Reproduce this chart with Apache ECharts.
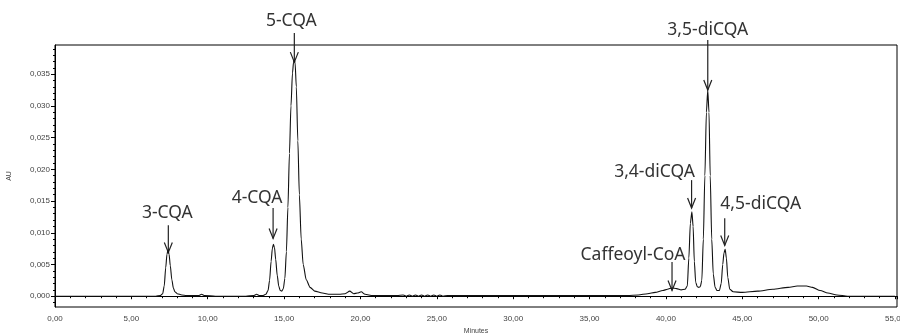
<!DOCTYPE html>
<html>
<head>
<meta charset="utf-8">
<script src="https://cdn.jsdelivr.net/npm/echarts@6/dist/echarts.min.js"></script>
<style>
  html, body { margin: 0; padding: 0; background: #fff; }
  #chart { width: 900px; height: 333px; }
</style>
</head>
<body>
<div id="chart"></div>
<script>
// HPLC trace: retention time (min) and absorbance (AU)
const minutes = [
  0.0, 1.0, 2.0, 3.0, 4.0, 5.0, 6.0, 6.6, 6.9, 7.05, 7.15, 7.25, 7.33, 7.40, 7.47, 7.55, 7.65, 7.75, 7.85, 8.0, 8.3, 8.6,
  9.0, 9.4, 9.6, 9.8, 10.5, 11.5, 12.5, 13.0, 13.2, 13.4, 13.6, 13.8, 13.95, 14.05, 14.15, 14.23, 14.30, 14.37, 14.45, 14.55,
  14.65, 14.75, 14.85, 14.95, 15.05, 15.15, 15.25, 15.35, 15.45, 15.55, 15.62, 15.67, 15.72, 15.80, 15.90, 16.00, 16.12,
  16.25, 16.45, 16.7, 17.0, 17.5, 18.0, 18.6, 19.0, 19.3, 19.55, 19.8, 20.05, 20.3, 20.8, 21.5, 22.4,
  22.8, 23.0, 23.2, 23.4, 23.6, 23.8, 24.0, 24.2, 24.4, 24.6, 24.8, 25.0, 25.2, 25.4, 25.7,
  27.0, 30.0, 33.0, 36.0, 37.5, 38.2, 38.8, 39.3, 39.8, 40.1, 40.4, 40.7, 41.0, 41.25,
  41.4, 41.5, 41.6, 41.70, 41.78, 41.86, 41.95, 42.05, 42.15, 42.25, 42.35, 42.45, 42.55, 42.65, 42.74,
  42.82, 42.90, 43.00, 43.10, 43.22, 43.35, 43.50, 43.62, 43.72, 43.80, 43.88, 43.96, 44.05, 44.18, 44.4,
  45.0, 46.0, 47.0, 48.0, 48.6, 49.2, 49.6, 50.1, 50.6, 51.2, 51.9, 53.0, 55.0
];
const au = [
  0.0000, 0.0000, 0.0000, 0.0000, 0.0000, 0.0000, 0.0000, 0.0000, 0.0001, 0.0004, 0.0016, 0.0045, 0.0066, 0.0073, 0.0066, 0.0048, 0.0026, 0.0013, 0.0007, 0.0004, 0.0002, 0.0001,
  0.0001, 0.0001, 0.0003, 0.0001, 0.0000, 0.0000, 0.0000, 0.0001, 0.0003, 0.0001, 0.0001, 0.0003, 0.0009, 0.0025, 0.0055, 0.0075, 0.0082, 0.0077, 0.0058, 0.0033,
  0.0016, 0.0009, 0.0008, 0.0012, 0.0028, 0.0070, 0.0140, 0.0225, 0.0300, 0.0352, 0.0369, 0.0372, 0.0368, 0.0330, 0.0245, 0.0160, 0.0090,
  0.0050, 0.0026, 0.0014, 0.0008, 0.0005, 0.0003, 0.0003, 0.0004, 0.0008, 0.0004, 0.0005, 0.0007, 0.0003, 0.0001, 0.0001, 0.0001,
  0.0002, 0.0000, 0.0002, 0.0000, 0.0002, 0.0000, 0.0002, 0.0000, 0.0002, 0.0000, 0.0002, 0.0000, 0.0002, 0.0000, 0.0001,
  0.0001, 0.0001, 0.0001, 0.0001, 0.0001, 0.0002, 0.0004, 0.0006, 0.0009, 0.0011, 0.0013, 0.0012, 0.0010, 0.0011,
  0.0016, 0.0060, 0.0115, 0.0133, 0.0110, 0.0055, 0.0022, 0.0015, 0.0014, 0.0015, 0.0025, 0.0090, 0.0190, 0.0290, 0.0325,
  0.0290, 0.0190, 0.0090, 0.0035, 0.0014, 0.0009, 0.0009, 0.0020, 0.0050, 0.0068, 0.0074, 0.0060, 0.0030, 0.0011, 0.0007,
  0.0006, 0.0008, 0.0011, 0.0014, 0.0016, 0.0016, 0.0014, 0.0009, 0.0005, 0.0002, 0.0000, 0.0000, 0.0000
];

// y-axis ticks
const yMajorTicks = [0, 0.005, 0.010, 0.015, 0.020, 0.025, 0.030, 0.035];
const yMinorTicks = [-0.001, 0.001, 0.002, 0.003, 0.004, 0.006, 0.007, 0.008, 0.009, 0.011, 0.012, 0.013, 0.014,
  0.016, 0.017, 0.018, 0.019, 0.021, 0.022, 0.023, 0.024, 0.026, 0.027, 0.028, 0.029, 0.031, 0.032, 0.033, 0.034,
  0.036, 0.037, 0.038, 0.039];

// peak annotations: name, arrow time, arrow tip (AU), arrow tail (AU)
const peakNames = ['3-CQA', '4-CQA', '5-CQA', 'Caffeoyl-CoA', '3,4-diCQA', '3,5-diCQA', '4,5-diCQA'];
const peakTimes = [7.42, 14.28, 15.67, 40.4, 41.68, 42.74, 43.85];
const arrowTips = [0.0069, 0.0091, 0.0369, 0.0009, 0.0139, 0.0325, 0.0080];
const arrowTails = [0.0112, 0.0139, 0.0415, 0.0054, 0.0183, 0.0404, 0.0123];

// label placement relative to arrow tail, in pixels
const labelShift = [[-1, -12], [-16, -10], [-3, -12], [-39, -7], [-37, -8], [0, -10], [36, -14]];

const trace = minutes.map((t, i) => [t, au[i]]);
const annotations = peakNames.map((n, i) => [peakTimes[i], arrowTips[i], arrowTails[i], i]);

const fmt = (v, d) => v.toFixed(d).replace('.', ',');
const smallFont = { fontFamily: 'Liberation Sans', fontSize: 8, color: '#444' };

const chart = echarts.init(document.getElementById('chart'), null, { renderer: 'canvas' });
chart.setOption({
  animation: false,
  backgroundColor: '#fff',
  grid: {
    left: 55, right: 3, top: 45, bottom: 26,
    outerBoundsMode: 'none', containLabel: false,
    show: true, borderColor: '#000', borderWidth: 1
  },
  xAxis: {
    type: 'value', min: 0, max: 55.13, interval: 5,
    name: 'Minutes', nameLocation: 'middle', nameGap: 20,
    nameTextStyle: { fontFamily: 'Liberation Sans', fontSize: 7, color: '#444' },
    axisLine: { lineStyle: { color: '#000', width: 1 } },
    axisTick: { length: 3, lineStyle: { color: '#000' } },
    minorTick: { show: true, splitNumber: 5, length: 2, lineStyle: { color: '#000' } },
    axisLabel: Object.assign({ margin: 8, formatter: v => fmt(v, 2), showMaxLabel: false }, smallFont),
    splitLine: { show: false }
  },
  yAxis: [{
    type: 'value', min: -0.0017, max: 0.0396,
    name: 'AU', nameLocation: 'middle', nameGap: 42,
    nameTextStyle: { fontFamily: 'Liberation Sans', fontSize: 7, color: '#444' },
    axisLine: { show: true, lineStyle: { color: '#000', width: 1 } },
    axisTick: { show: true, length: 4, customValues: yMajorTicks, lineStyle: { color: '#000' } },
    axisLabel: Object.assign({ margin: 5, customValues: yMajorTicks, formatter: v => fmt(v, 3) }, smallFont),
    splitLine: { show: false }
  }, {
    type: 'value', min: -0.0017, max: 0.0396, position: 'left',
    axisLine: { show: false },
    axisTick: { show: true, length: 2, customValues: yMinorTicks, lineStyle: { color: '#000' } },
    axisLabel: { show: false },
    splitLine: { show: false }
  }],
  series: [{
    type: 'line',
    data: trace,
    showSymbol: false,
    smooth: 0.25,
    smoothMonotone: 'x',
    lineStyle: { color: '#111', width: 1.1 },
    silent: true
  }, {
    type: 'custom',
    clip: false,
    silent: true,
    data: annotations,
    renderItem: function (params, api) {
      const idx = api.value(3);
      const tip = api.coord([api.value(0), api.value(1)]);
      const tail = api.coord([api.value(0), api.value(2)]);
      const sh = labelShift[idx];
      const stroke = { stroke: '#222', lineWidth: 1.2 };
      return {
        type: 'group',
        children: [
          { type: 'line', shape: { x1: tail[0], y1: tail[1], x2: tip[0], y2: tip[1] }, style: stroke },
          { type: 'polyline', shape: { points: [[tip[0] - 4, tip[1] - 10], [tip[0], tip[1]], [tip[0] + 4, tip[1] - 10]] }, style: Object.assign({ fill: null }, stroke) },
          { type: 'text', x: tail[0] + sh[0], y: tail[1] + sh[1],
            style: { text: peakNames[idx], align: 'center', verticalAlign: 'middle',
                     fontFamily: 'Noto Sans', fontSize: 17.5, fill: '#333' } }
        ]
      };
    }
  }]
});
</script>
</body>
</html>
